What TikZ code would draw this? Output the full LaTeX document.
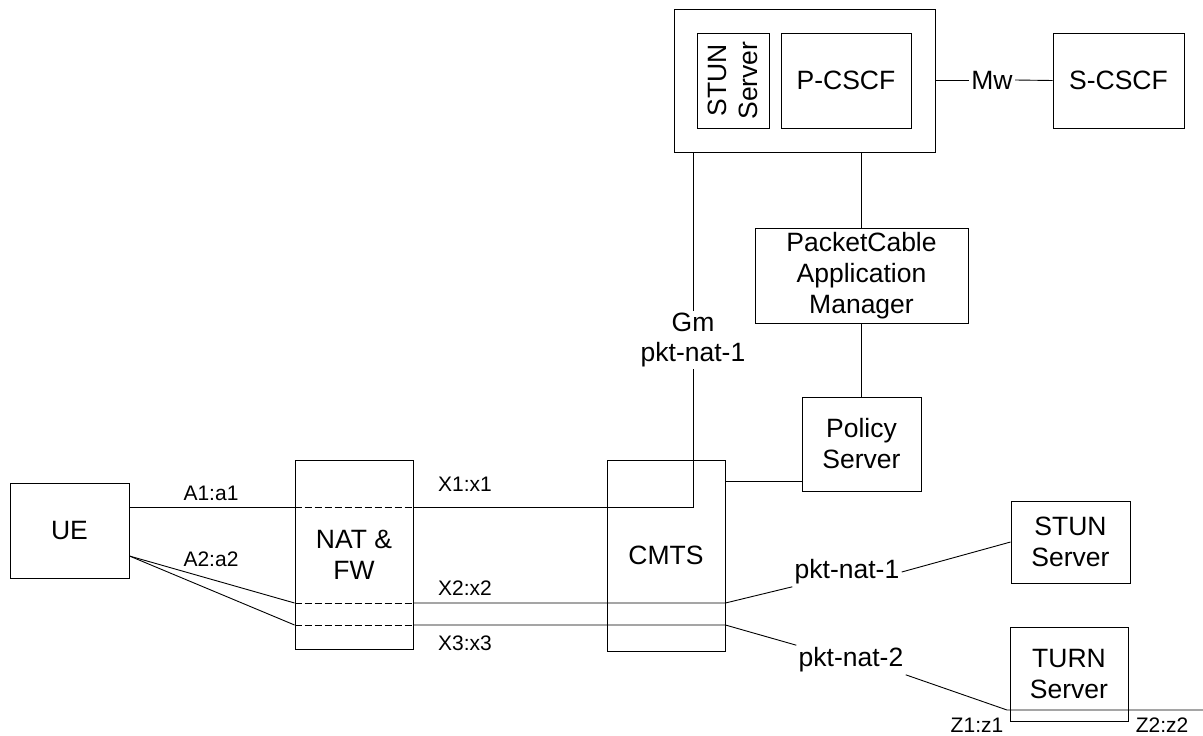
\documentclass[tikz,border=0pt]{standalone}
\usepackage{fontspec}
\setmainfont{Liberation Sans}

\tikzset{
  box/.style={draw, align=center, inner sep=0pt, font=\fontsize{26.5}{31}\selectfont},
  lbl/.style={inner sep=2pt, align=center, font=\fontsize{26.5}{30}\selectfont},
  port/.style={inner sep=0pt, font=\fontsize{21}{24}\selectfont},
  dashline/.style={dash pattern=on 7pt off 3pt},
}

\begin{document}
\begin{tikzpicture}[x=1pt, y=-1pt, line width=0.9pt]
\useasboundingbox (0,0) rectangle (1203,736);

% boxes
\node[box, minimum width=119pt, minimum height=95pt] (ue) at (69.5,530.5) {UE};
\node[box, minimum width=118pt, minimum height=189pt] (nat) at (354,554.5) {NAT \&\\FW};
\node[box, minimum width=118pt, minimum height=191pt] (cmts) at (666,555.5) {CMTS};
\node[box, minimum width=119pt, minimum height=94pt] (policy) at (861.5,444) {Policy\\Server};
\node[box, minimum width=213pt, minimum height=95pt] (pcam) at (861.5,275.5) {PacketCable\\Application\\Manager};
\node[box, minimum width=261pt, minimum height=143pt] (outer) at (804.5,80.5) {};
\node[box, rotate=90, minimum width=95pt, minimum height=72pt] (stunin) at (733,80.5) {STUN\\Server};
\node[box, minimum width=130pt, minimum height=95pt] (pcscf) at (846,80.5) {P-CSCF};
\node[box, minimum width=131pt, minimum height=95pt] (scscf) at (1118.5,80.5) {S-CSCF};
\node[box, minimum width=119pt, minimum height=82pt] (stun) at (1070.5,542) {STUN\\Server};
\node[box, minimum width=118pt, minimum height=94pt] (turn) at (1069,674) {TURN\\Server};

% interface labels
\node[lbl] (gm) at (693,340) {Gm\\pkt-nat-1};
\node[lbl] (mw) at (992,80) {Mw};
\node[lbl] (pn1) at (847,572) {pkt-nat-1};
\node[lbl] (pn2) at (851,660) {pkt-nat-2};
\node[port] (a1) at (211,493) {A1:a1};
\node[port] (a2) at (211,559) {A2:a2};
\node[port] (x1) at (465,484) {X1:x1};
\node[port] (x2) at (465,588) {X2:x2};
\node[port] (x3) at (465,643) {X3:x3};
\node[port] (zz1) at (977,725) {Z1:z1};
\node[port] (zz2) at (1162,725) {Z2:z2};

\coordinate (ya1) at (0,507);
\coordinate (ya2) at (0,556);
\coordinate (yx2) at (0,603);
\coordinate (yx3) at (0,625);
\coordinate (ypol) at (0,481);
\coordinate (gmc) at (693,507);
\coordinate (z1) at (1007,710);
\coordinate (z2) at (1203,710);

% flows
\draw (ue.east |- ya1) -- (nat.west |- ya1);
\draw[dashline] (nat.west |- ya1) -- (nat.east |- ya1);
\draw (nat.east |- ya1) -- (gmc) -- (gm.south);
\draw (gm.north) -- (outer.south -| gm.north);

\draw (ue.east |- ya2) -- (nat.west |- yx2);
\draw (ue.east |- ya2) -- (nat.west |- yx3);
\draw[dashline] (nat.west |- yx2) -- (nat.east |- yx2);
\draw[dashline] (nat.west |- yx3) -- (nat.east |- yx3);
\draw (nat.east |- yx2) -- (cmts.east |- yx2) -- (pn1.south west);
\draw (pn1.east) -- (stun.west);
\draw (nat.east |- yx3) -- (cmts.east |- yx3) -- (pn2.north west);
\draw (pn2.south east) -- (z1) -- (z2);

\draw (cmts.east |- ypol) -- (policy.west |- ypol);
\draw (outer.south -| pcam.north) -- (pcam.north);
\draw (pcam.south) -- (policy.north);
\draw (outer.east |- mw.west) -- (mw.west);
\draw (mw.east) -- (scscf.west);
\end{tikzpicture}
\end{document}
